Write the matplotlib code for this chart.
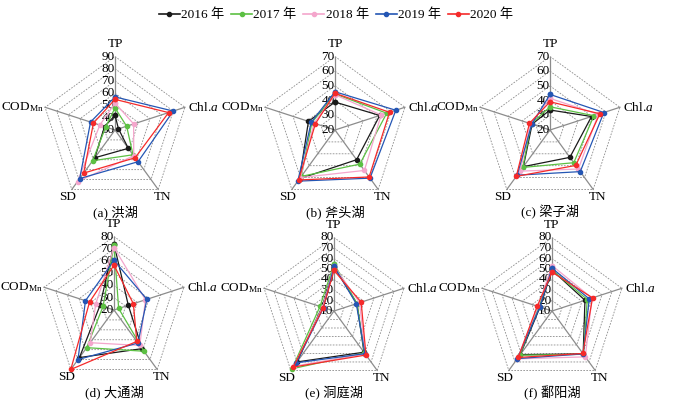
import numpy as np
import matplotlib
matplotlib.use('Agg')
import matplotlib.pyplot as plt
from matplotlib.lines import Line2D

plt.rcParams['font.family'] = ['Liberation Serif', 'Noto Sans CJK SC']
plt.rcParams['mathtext.fontset'] = 'custom'
plt.rcParams['mathtext.rm'] = 'Liberation Serif'
plt.rcParams['mathtext.it'] = 'Liberation Serif:italic'

indicators = ['TP', 'Chl.$\\it{a}$', 'TN', 'SD', 'COD$_{\\rm Mn}$']
years = ['2016 年', '2017 年', '2018 年', '2019 年', '2020 年']
colors = ['#1a1a1a', '#5cc043', '#f4a6cc', '#2456b4', '#f52a2a']

lakes = ['(a) 洪湖', '(b) 斧头湖', '(c) 梁子湖', '(d) 大通湖', '(e) 洞庭湖', '(f) 鄱阳湖']
r_min = [30, 20, 20, 20, 10, 10]
r_max = [90, 70, 70, 80, 80, 80]

# rows: 2016..2020 ; columns: TP, Chl.a, TN, SD, CODMn
honghu = [[42, 33, 48.5, 58, 39],
          [48, 40, 55, 61, 38],
          [52, 46, 56, 82, 43],
          [57, 80, 62, 79, 51],
          [55, 76, 58, 73.5, 48.5]]
futou = [[39, 52, 45, 61, 39],
         [44.5, 57, 48.7, 59, 36.5],
         [44, 53, 54, 60, 35],
         [46, 63.5, 60.5, 63, 37],
         [45, 59, 59.5, 62, 34]]
liangzi = [[33.6, 49.7, 43, 50.8, 32.8],
           [35.8, 51.4, 47.5, 51.5, 33.5],
           [41.5, 54.5, 52.8, 54.6, 34],
           [44.2, 58.5, 55, 58, 33],
           [39.2, 55.7, 49.8, 59, 34.7]]
datong = [[73.7, 32.3, 59, 68, 32],
          [73, 24, 61.6, 58, 29.4],
          [71, 47, 55.8, 53, 35.7],
          [60.5, 48.2, 53.3, 70, 44.5],
          [56.6, 36.6, 51.7, 80, 41]]
dongting = [[52, 33, 58.5, 70, 22],
            [54.9, 33, 59.4, 78, 24],
            [52.7, 35.6, 60.5, 75, 21.5],
            [52.7, 32.3, 60.2, 71, 20.5],
            [48.6, 37.2, 61.8, 76, 20.7]]
poyang = [[49, 43, 60.5, 61.5, 22],
          [49, 45.3, 61, 62, 23.5],
          [53.3, 50, 64, 66.3, 24],
          [50.8, 47.3, 60.5, 66, 22.2],
          [47, 50.6, 60, 64.7, 24.8]]
all_data = [honghu, futou, liangzi, datong, dongting, poyang]

W, H = 693, 408
fig = plt.figure(figsize=(W / 100, H / 100), dpi=100)
centers = [(115, 130), (335, 130), (550, 130), (114, 310), (334, 311), (552, 311)]
R = 73.5
n = len(indicators)
theta = np.linspace(0, 2 * np.pi, n + 1)
grid_col = '#8c8c8c'
fs = 9.5

label_cfg = [  # offset (pts), ha, va
    ((0, 5), 'center', 'bottom'),
    ((2, 0), 'left', 'center'),
    ((3, -1), 'center', 'top'),
    ((-3, -1), 'center', 'top'),
    ((-1, 0), 'right', 'center'),
]

for i, data in enumerate(all_data):
    cx, cy = centers[i]
    ax = fig.add_axes([(cx - R) / W, (H - cy - R) / H, 2 * R / W, 2 * R / H],
                      projection='polar')
    ax.set_theta_offset(np.pi / 2)
    ax.set_theta_direction(-1)
    rmin, rmax = r_min[i], r_max[i]
    ax.set_ylim(rmin, rmax)
    ax.grid(False)
    ax.set_xticks([])
    ax.set_yticks([])
    ax.spines['polar'].set_visible(False)
    ax.patch.set_visible(False)
    for lv in np.arange(rmin + 10, rmax + 1, 10):
        ax.plot(theta, [lv] * (n + 1), ls=(0, (2, 1.6)), color=grid_col, lw=0.6,
                clip_on=False, zorder=1)
    for t in theta[:n]:
        ax.plot([t, t], [rmin, rmax], color=grid_col, lw=0.9, clip_on=False, zorder=1)
    for lv in np.arange(rmin, rmax + 1, 10):
        ax.annotate(str(lv), (0, lv), xytext=(-0.3, 0), textcoords='offset points',
                    ha='right', va='center', fontsize=fs, zorder=2)
    for k, (lab, cfg) in enumerate(zip(indicators, label_cfg)):
        ax.annotate(lab, (theta[k], rmax), xytext=cfg[0], textcoords='offset points',
                    ha=cfg[1], va=cfg[2], fontsize=fs, annotation_clip=False)
    for y, vals in enumerate(data):
        ax.plot(theta, list(vals) + [vals[0]], color=colors[y], lw=0.9, marker='o',
                ms=3, clip_on=False, zorder=3 + y)
    ax.text(0.5, 0.5 - 82 / (2 * R), lakes[i], transform=ax.transAxes,
            ha='center', va='center', fontsize=fs)

handles = [Line2D([], [], color=c, lw=1.2, marker='o', ms=3) for c in colors]
fig.legend(handles, years, loc='center', bbox_to_anchor=(336 / W, 1 - 15 / H),
           ncol=5, frameon=False, fontsize=fs, handlelength=1.6, handletextpad=0.1,
           columnspacing=0.5, numpoints=1)

fig.savefig('out.png', dpi=100)
